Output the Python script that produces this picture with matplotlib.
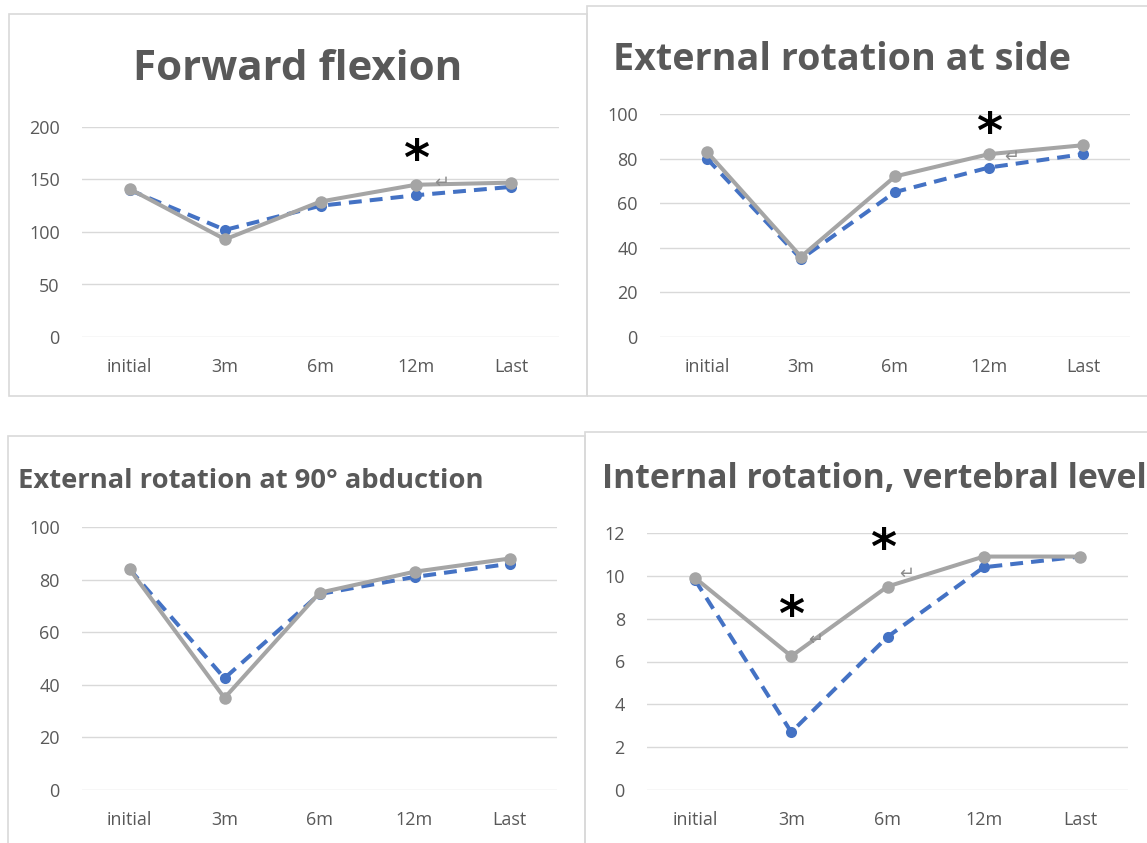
import matplotlib
matplotlib.use("Agg")
import matplotlib.pyplot as plt
from matplotlib.patches import Rectangle

# ---------------- data ----------------
categories = ["initial", "3m", "6m", "12m", "Last"]

ff_blue = [140, 102, 125, 135, 143]
ff_gray = [141, 93, 129, 145, 147]

ers_blue = [80, 35, 65, 76, 82]
ers_gray = [83, 36, 72, 82, 86]

er90_blue = [84, 42.5, 74.5, 81, 86]
er90_gray = [84, 35, 75, 83, 88]

ir_blue = [9.8, 2.7, 7.15, 10.4, 10.9]
ir_gray = [9.9, 6.25, 9.5, 10.9, 10.9]

titles = ["Forward flexion", "External rotation at side",
          "External rotation at 90° abduction", "Internal rotation, vertebral level"]
y_max = [200, 100, 100, 12]
y_step = [50, 20, 20, 2]

# significance marks (category position, value)
stars = [[(3, 168)], [(3, 91)], [], [(1, 8.1), (1.95, 11.2)]]
returns = [[(3.27, 146.7)], [(3.24, 80.7)], [], [(1.25, 7.0), (2.2, 10.07)]]

# ---------------- layout (pixels) ----------------
W, H = 1147, 843
fig = plt.figure(figsize=(W / 100, H / 100), dpi=100)
fig.patch.set_facecolor("white")

TXT = "#595959"
GRID = "#D9D9D9"
BLUE = "#4472C4"
GRAY = "#A5A5A5"
FONT = "Open Sans"


def fx(x):
    return x / W


def fy(y):
    return 1 - y / H


boxes = [(9, 14, 587, 396), (587, 6, 1152, 396), (8, 436, 585, 850), (585, 432, 1152, 850)]
for x0, y0, x1, y1 in boxes:
    fig.add_artist(Rectangle((fx(x0), fy(y1)), fx(x1) - fx(x0), fy(y0) - fy(y1),
                             transform=fig.transFigure, fill=False,
                             edgecolor=GRID, linewidth=1.2, clip_on=False))

axes_px = [(82, 127, 559, 337), (660, 114, 1130, 337), (82, 527, 557, 790), (647, 533, 1128, 790)]
# title: x, baseline y, target width, ha
title_px = [(298, 80, 330, "center"), (613, 70, 457, "left"),
            (18, 488, 465, "left"), (602, 488, 545, "left")]

series = [(ff_blue, ff_gray), (ers_blue, ers_gray), (er90_blue, er90_gray), (ir_blue, ir_gray)]

renderer = fig.canvas.get_renderer()
xs = list(range(len(categories)))

for i in range(4):
    l, t, r, b = axes_px[i]
    ax = fig.add_axes([fx(l), fy(b), fx(r) - fx(l), fy(t) - fy(b)])
    blue, gray = series[i]
    ax.plot(xs, blue, color=BLUE, lw=2.9, ls=(0, (3.2, 2.0)), marker="o", ms=8,
            markeredgewidth=0, zorder=3, clip_on=False)
    ax.plot(xs, gray, color=GRAY, lw=2.9, marker="o", ms=9,
            markeredgewidth=0, zorder=4, clip_on=False)
    ax.set_xlim(-0.5, len(categories) - 0.5)
    ax.set_ylim(0, y_max[i])
    ax.set_yticks(list(range(0, y_max[i] + 1, y_step[i])))
    ax.set_xticks(xs)
    ax.set_xticklabels(categories)
    for s in ax.spines.values():
        s.set_visible(False)
    ax.grid(axis="y", color=GRID, lw=1.0)
    ax.set_axisbelow(True)
    ax.tick_params(axis="both", length=0, labelsize=13, labelcolor=TXT)
    ax.tick_params(axis="y", pad=16)
    ax.tick_params(axis="x", pad=15)
    for lab in ax.get_xticklabels() + ax.get_yticklabels():
        lab.set_fontfamily(FONT)
    ax.set_facecolor("none")

    for (sx, sy) in stars[i]:
        ax.text(sx, sy, "*", ha="center", va="center", fontsize=36,
                fontweight="bold", color="black", family="DejaVu Sans")
    for (rx, ry) in returns[i]:
        ax.text(rx, ry, "\u21b5", ha="center", va="center", fontsize=13,
                color="#8C8C8C", family="DejaVu Sans", zorder=5)

    x, base, wt, ha = title_px[i]
    tt = fig.text(fx(x), fy(base), titles[i], ha=ha, va="baseline", fontsize=20,
                  fontweight="bold", color=TXT, family=FONT)
    w = tt.get_window_extent(renderer).width
    tt.set_fontsize(20 * wt / w)

fig.savefig("out.png", dpi=100, facecolor="white")
